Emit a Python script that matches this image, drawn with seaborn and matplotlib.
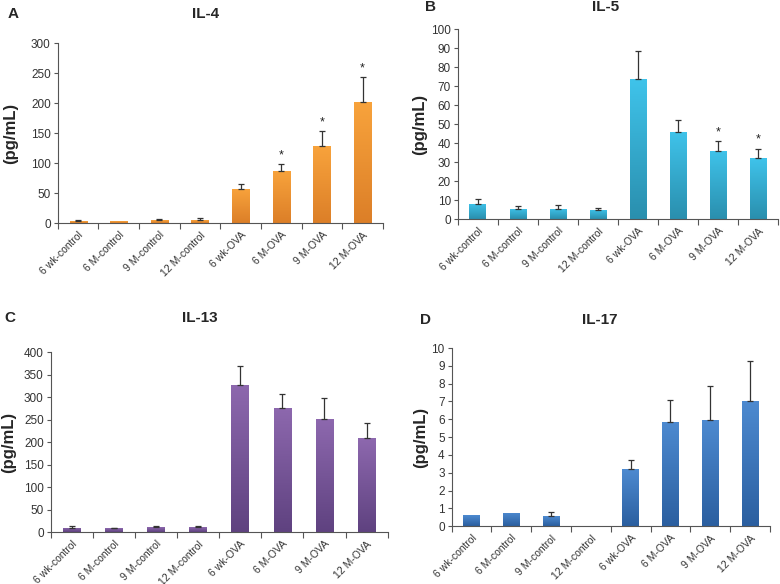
import numpy as np
import pandas as pd
import matplotlib
matplotlib.use("Agg")
import matplotlib.pyplot as plt
import seaborn as sns
from matplotlib.colors import LinearSegmentedColormap

# data
groups = ["6 wk-control", "6 M-control", "9 M-control", "12 M-control",
          "6 wk-OVA", "6 M-OVA", "9 M-OVA", "12 M-OVA"]

il4_mean = [3, 3, 5, 5, 57, 87, 129, 202]
il4_err = [2, 0, 2, 3, 9, 12, 24, 42]
il4_star = [False, False, False, False, False, True, True, True]

il5_mean = [8, 5.5, 5.5, 4.8, 73.5, 46, 36, 32]
il5_err = [2.5, 1.5, 2, 1, 15, 6, 5, 5]
il5_star = [False, False, False, False, False, False, True, True]

il13_mean = [10, 8, 11, 11, 328, 276, 251, 208]
il13_err = [3, 2, 3, 2, 42, 30, 46, 35]
il13_star = [False] * 8

il17_mean = [0.6, 0.75, 0.55, 0, 3.2, 5.85, 5.97, 7.03]
il17_err = [0, 0, 0.23, 0, 0.52, 1.25, 1.88, 2.24]
il17_star = [False] * 8

sns.set_theme(style="white")
plt.rcParams["font.family"] = ["Liberation Sans", "DejaVu Sans"]

fig = plt.figure(figsize=(7.8, 5.84), dpi=100)

panels = [
    # letter, title, mean, err, star, ymax, step, colours (top, bottom), rect, letter pos, title pos, ylabel x
    ("A", "IL-4", il4_mean, il4_err, il4_star, 300, 50, ("#f8a33c", "#dc7f28"),
     [0.074, 0.618, 0.417, 0.308], (0.010, 0.976), (0.263, 0.976), 0.004),
    ("B", "IL-5", il5_mean, il5_err, il5_star, 100, 10, ("#3fc3ea", "#2a8fae"),
     [0.587, 0.625, 0.411, 0.325], (0.545, 0.988), (0.777, 0.988), 0.529),
    ("C", "IL-13", il13_mean, il13_err, il13_star, 400, 50, ("#8d68ae", "#5f4280"),
     [0.065, 0.089, 0.432, 0.308], (0.006, 0.455), (0.256, 0.455), 0.001),
    ("D", "IL-17", il17_mean, il17_err, il17_star, 10, 1, ("#4d8ad0", "#2b5fa0"),
     [0.579, 0.099, 0.408, 0.305], (0.538, 0.452), (0.769, 0.452), 0.530),
]

for letter, title, mean, err, star, ymax, step, cols, rect, lpos, tpos, ylx in panels:
    ax = fig.add_axes(rect)
    df = pd.DataFrame({"group": groups, "value": mean})
    sns.barplot(data=df, x="group", y="value", color=cols[0], width=0.42,
                errorbar=None, saturation=1, ax=ax, linewidth=0)

    # vertical gradient inside each bar
    cmap = LinearSegmentedColormap.from_list("g", [cols[1], cols[0]])
    grad = np.linspace(0, 1, 64).reshape(-1, 1)
    for p in ax.patches:
        x0, y0, w, h = p.get_x(), p.get_y(), p.get_width(), p.get_height()
        if h <= 0:
            continue
        im = ax.imshow(grad, cmap=cmap, aspect="auto", origin="lower",
                       extent=[x0, x0 + w, y0, y0 + h], zorder=2)
        im.set_clip_path(p)

    # one-sided error bars
    xs = np.arange(len(groups))
    m = np.array(mean, dtype=float)
    e = np.array(err, dtype=float)
    show = e > 0
    ax.errorbar(xs[show], m[show], yerr=[np.zeros(show.sum()), e[show]],
                fmt="none", ecolor="#333333", elinewidth=0.9, capsize=2,
                capthick=0.9, zorder=3)

    for i in range(len(groups)):
        if star[i]:
            ax.text(xs[i], m[i] + e[i] + ymax * 0.015, "*", ha="center",
                    va="bottom", fontsize=9, color="#222222")

    ax.set_xlim(-0.5, len(groups) - 0.5)
    ax.set_ylim(0, ymax)
    ax.set_yticks(np.arange(0, ymax + step / 2, step))
    ax.set_xlabel("")
    ax.set_ylabel("")
    ax.set_xticks(xs)
    ax.set_xticklabels(groups, rotation=45, ha="right", rotation_mode="anchor",
                       fontsize=7.5, color="#333333")
    ax.set_xticks(np.arange(-0.5, len(groups)), minor=True)
    ax.tick_params(axis="x", which="major", length=0, pad=5)
    ax.tick_params(axis="x", which="minor", length=4, width=0.8,
                   color="#555555", direction="out", bottom=True)
    ax.tick_params(axis="y", length=3, width=0.8, color="#555555",
                   direction="out", left=True, labelsize=8.5, labelcolor="#333333",
                   pad=2)
    for s in ["top", "right"]:
        ax.spines[s].set_visible(False)
    for s in ["left", "bottom"]:
        ax.spines[s].set_color("#555555")
        ax.spines[s].set_linewidth(0.8)

    fig.text(lpos[0], lpos[1], letter, fontsize=11, fontweight="bold",
             ha="left", va="center")
    fig.text(tpos[0], tpos[1], title, fontsize=11, fontweight="bold",
             ha="center", va="center")
    fig.text(ylx, rect[1] + rect[3] * 0.5, "(pg/mL)", fontsize=12,
             fontweight="bold", rotation=90, ha="left", va="center")

fig.savefig("out.png", dpi=100)
